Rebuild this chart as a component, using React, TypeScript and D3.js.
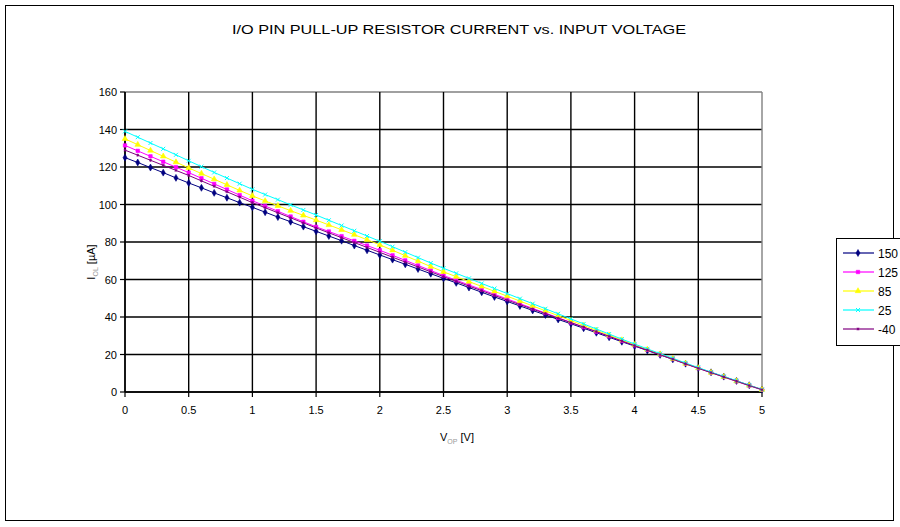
import React from "react";
import * as d3 from "d3";

const voltages: number[] = [
  0.0, 0.1, 0.2, 0.3, 0.4, 0.5, 0.6, 0.7, 0.8, 0.9, 1.0, 1.1, 1.2, 1.3, 1.4, 1.5, 1.6,
  1.7, 1.8, 1.9, 2.0, 2.1, 2.2, 2.3, 2.4, 2.5, 2.6, 2.7, 2.8, 2.9, 3.0, 3.1, 3.2, 3.3,
  3.4, 3.5, 3.6, 3.7, 3.8, 3.9, 4.0, 4.1, 4.2, 4.3, 4.4, 4.5, 4.6, 4.7, 4.8, 4.9, 5.0,
];

const current150: number[] = [
  125.0, 122.4, 119.7, 117.0, 114.2, 111.5, 108.9, 106.2, 103.6, 101.0, 98.5, 95.9, 93.3,
  90.8, 88.2, 85.7, 83.2, 80.7, 78.1, 75.6, 73.1, 70.6, 68.1, 65.6, 63.1, 60.6, 58.2, 55.7,
  53.2, 50.7, 48.3, 45.9, 43.5, 41.1, 38.7, 36.4, 34.0, 31.6, 29.2, 26.8, 24.5, 22.1, 19.8,
  17.4, 15.1, 12.8, 10.5, 8.2, 5.9, 3.6, 1.3,
];

const current125: number[] = [
  131.5, 128.6, 125.7, 122.8, 119.9, 117.0, 114.0, 111.0, 108.0, 105.0, 102.0, 99.2, 96.4,
  93.6, 90.8, 88.1, 85.6, 83.1, 80.6, 78.1, 75.6, 72.9, 70.2, 67.5, 64.8, 62.1, 59.6, 57.1,
  54.6, 52.1, 49.6, 47.1, 44.6, 42.1, 39.6, 37.1, 34.6, 32.2, 29.7, 27.3, 24.9, 22.5, 20.0,
  17.6, 15.1, 12.7, 10.4, 8.0, 5.7, 3.4, 1.2,
];

const current85: number[] = [
  135.0, 131.9, 128.8, 125.7, 122.6, 119.5, 116.5, 113.5, 110.5, 107.5, 104.6, 101.9, 99.3,
  96.7, 94.2, 91.7, 89.1, 86.5, 83.9, 81.2, 78.5, 75.6, 72.7, 69.8, 66.9, 64.1, 61.5, 58.9,
  56.3, 53.7, 51.1, 48.5, 45.9, 43.3, 40.7, 38.1, 35.5, 32.9, 30.3, 27.7, 25.2, 22.7, 20.2,
  17.7, 15.2, 12.8, 10.4, 8.1, 5.8, 3.5, 1.3,
];

const current25: number[] = [
  139.0, 135.9, 132.8, 129.7, 126.5, 123.3, 120.2, 117.1, 114.1, 111.1, 108.1, 105.3, 102.6,
  99.8, 97.1, 94.4, 91.6, 88.8, 86.0, 83.2, 80.4, 77.5, 74.6, 71.7, 68.8, 66.0, 63.3, 60.6,
  57.9, 55.2, 52.5, 49.8, 47.1, 44.4, 41.7, 39.0, 36.3, 33.6, 30.9, 28.2, 25.6, 23.0, 20.5,
  18.0, 15.5, 13.0, 10.6, 8.3, 6.0, 3.6, 1.3,
];

const currentMinus40: number[] = [
  129.0, 126.3, 123.6, 120.9, 118.2, 115.5, 112.6, 109.7, 106.8, 103.9, 101.0, 98.3, 95.6,
  92.9, 90.2, 87.5, 84.9, 82.3, 79.7, 77.1, 74.5, 71.9, 69.3, 66.7, 64.1, 61.5, 59.0, 56.5,
  54.0, 51.5, 49.0, 46.6, 44.2, 41.8, 39.4, 37.0, 34.6, 32.2, 29.7, 27.2, 24.7, 22.3, 19.9,
  17.5, 15.0, 12.6, 10.3, 8.0, 5.7, 3.4, 1.2,
];

const seriesNames: string[] = ["150", "125", "85", "25", "-40"];
const seriesColors: string[] = ["#000080", "#FF00FF", "#FFFF00", "#00FFFF", "#800080"];
const xTicks: number[] = [0, 0.5, 1, 1.5, 2, 2.5, 3, 3.5, 4, 4.5, 5];
const yTicks: number[] = [0, 20, 40, 60, 80, 100, 120, 140, 160];

const seriesValues: number[][] = [current150, current125, current85, current25, currentMinus40];

const FONT = "'Liberation Sans', Arial, sans-serif";

type MarkerKind = "diamond" | "square" | "triangle" | "x" | "star";
const markerKinds: MarkerKind[] = ["diamond", "square", "triangle", "x", "star"];

function Marker({ kind, x, y, color }: { kind: MarkerKind; x: number; y: number; color: string }) {
  const gen = d3.symbol();
  const tr = `translate(${x},${y})`;
  if (kind === "diamond") {
    return <path d={gen.type(d3.symbolDiamond).size(14)()!} transform={tr} fill={color} stroke={color} strokeWidth={0.6} />;
  }
  if (kind === "square") {
    return <path d={gen.type(d3.symbolSquare).size(12)()!} transform={tr} fill={color} stroke={color} strokeWidth={0.6} />;
  }
  if (kind === "triangle") {
    return <path d={gen.type(d3.symbolTriangle).size(14)()!} transform={tr} fill={color} stroke={color} strokeWidth={0.6} />;
  }
  if (kind === "x") {
    return <path d={gen.type(d3.symbolX).size(12)()!} transform={tr} fill="none" stroke={color} strokeWidth={1} />;
  }
  return <path d={gen.type(d3.symbolAsterisk).size(6)()!} transform={tr} fill="none" stroke={color} strokeWidth={1} />;
}

export default function App() {
  const W = 900;
  const H = 527;
  const left = 125;
  const right = 762;
  const top = 92;
  const bottom = 392;

  const x = d3.scaleLinear().domain([0, 5]).range([left, right]);
  const y = d3.scaleLinear().domain([0, 160]).range([bottom, top]);

  const lineGen = d3
    .line<number>()
    .x((_, i) => x(voltages[i]))
    .y((d) => y(d));

  const legendTop = 238;
  const legendRowY = (i: number) => 253 + i * 19;

  return (
    <svg
      width={W}
      height={H}
      style={{ position: "absolute", left: 0, top: 0, display: "block" }}
      fontFamily={FONT}
    >
      <rect x={0} y={0} width={W} height={H} fill="#fff" />
      <rect x={5.5} y={5.5} width={888} height={515} fill="#fff" stroke="#000" strokeWidth={1} />

      <text
        x={459}
        y={34}
        textAnchor="middle"
        fontSize={12}
        fill="#000"
        textLength={454}
        lengthAdjust="spacingAndGlyphs"
      >
        I/O PIN PULL-UP RESISTOR CURRENT vs. INPUT VOLTAGE
      </text>

      {/* grid */}
      {yTicks.map((t) => (
        <line
          key={"hy" + t}
          x1={left}
          x2={right}
          y1={y(t)}
          y2={y(t)}
          stroke={t === 160 ? "#808080" : "#000"}
          strokeWidth={1.4}
        />
      ))}
      {xTicks.map((t) => (
        <line
          key={"vx" + t}
          x1={x(t)}
          x2={x(t)}
          y1={top}
          y2={bottom}
          stroke={t === 5 ? "#808080" : "#000"}
          strokeWidth={1.4}
        />
      ))}

      {/* axes */}
      <line x1={left} x2={left} y1={top} y2={bottom} stroke="#000" strokeWidth={1.4} />
      <line x1={left} x2={right} y1={bottom} y2={bottom} stroke="#000" strokeWidth={1.4} />
      {yTicks.map((t) => (
        <g key={"yt" + t}>
          <line x1={left - 5} x2={left} y1={y(t)} y2={y(t)} stroke="#000" strokeWidth={1.2} />
          <text x={left - 8} y={y(t) + 4} textAnchor="end" fontSize={11} fill="#000">
            {t}
          </text>
        </g>
      ))}
      {xTicks.map((t) => (
        <g key={"xt" + t}>
          <line x1={x(t)} x2={x(t)} y1={bottom} y2={bottom + 5} stroke="#000" strokeWidth={1.2} />
          <text x={x(t)} y={bottom + 22} textAnchor="middle" fontSize={11} fill="#000">
            {String(t)}
          </text>
        </g>
      ))}

      {/* axis titles */}
      <text x={440} y={441} fontSize={11} fill="#000">
        V
        <tspan fontSize={7} dy={3} fill="#999">OP</tspan>
        <tspan dy={-3}> [V]</tspan>
      </text>
      <text
        transform={`translate(95,${(top + bottom) / 2 + 20}) rotate(-90)`}
        textAnchor="middle"
        fontSize={11}
        fill="#000"
      >
        I
        <tspan fontSize={7} dy={3} fill="#999">OL</tspan>
        <tspan dy={-3}> [µA]</tspan>
      </text>

      {/* series */}
      {seriesValues.map((vals, si) => (
        <g key={"s" + si}>
          <path d={lineGen(vals)!} fill="none" stroke={seriesColors[si]} strokeWidth={1} />
          {vals.map((v, i) => (
            <Marker key={i} kind={markerKinds[si]} x={x(voltages[i])} y={y(v)} color={seriesColors[si]} />
          ))}
        </g>
      ))}

      {/* legend */}
      <rect x={836.5} y={legendTop + 0.5} width={80} height={107} fill="#fff" stroke="#000" strokeWidth={1} />
      {seriesNames.map((name, i) => (
        <g key={"lg" + i}>
          <line x1={843} x2={874} y1={legendRowY(i)} y2={legendRowY(i)} stroke={seriesColors[i]} strokeWidth={1.2} />
          <Marker kind={markerKinds[i]} x={858} y={legendRowY(i)} color={seriesColors[i]} />
          <text x={878} y={legendRowY(i) + 4.5} fontSize={12} fill="#000">
            {name}
          </text>
        </g>
      ))}
    </svg>
  );
}
